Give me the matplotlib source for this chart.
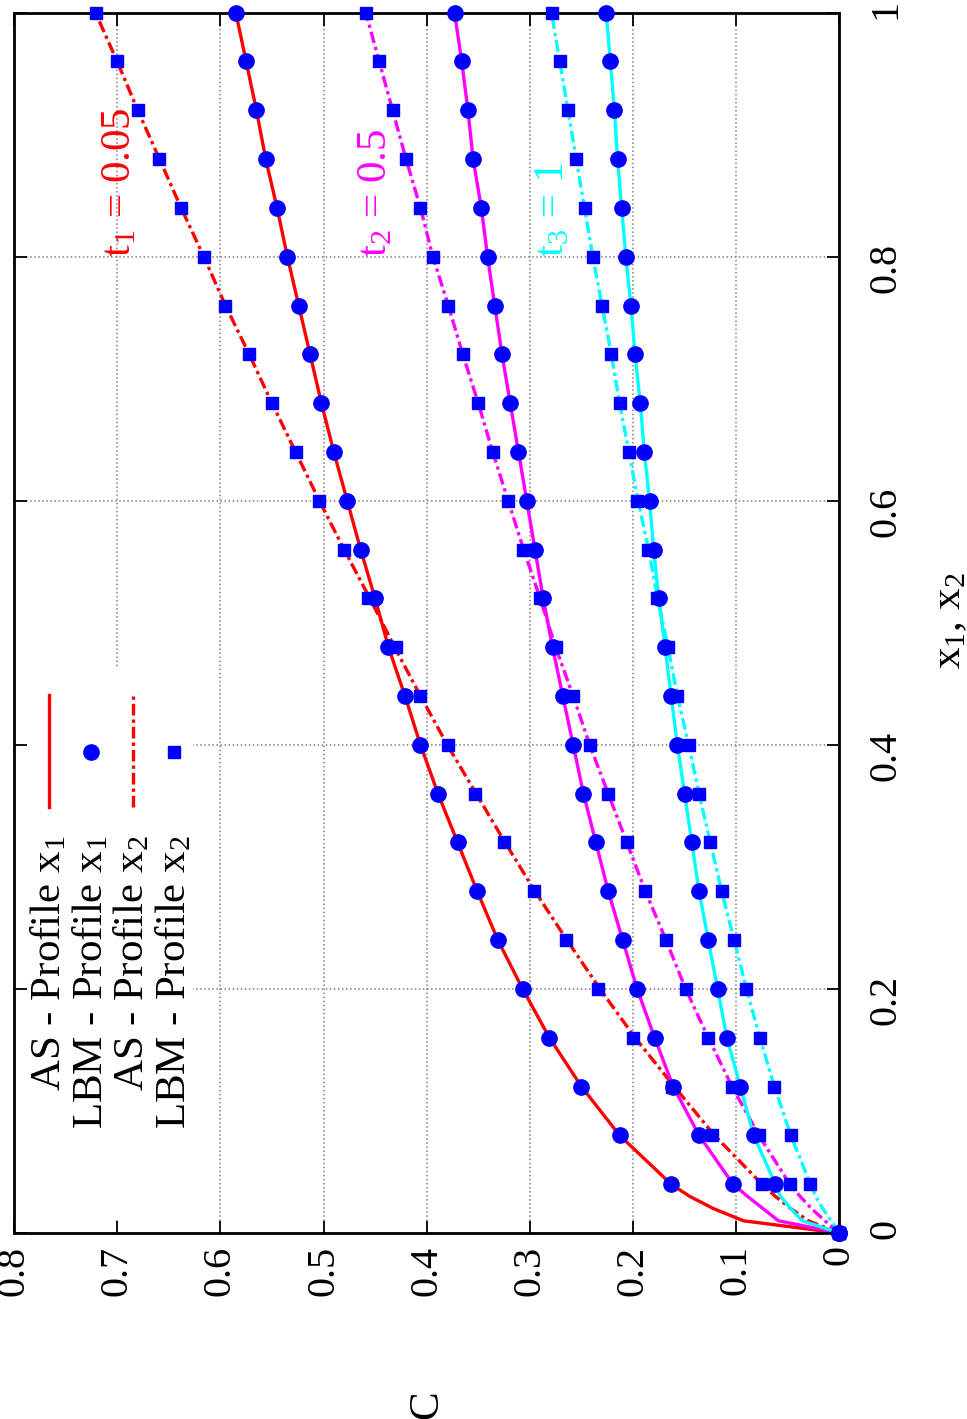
import matplotlib
matplotlib.use("Agg")
import matplotlib.pyplot as plt
from matplotlib.patches import Rectangle

# positions along the domain (x1 or x2)
x_lbm = [0.00, 0.04, 0.08, 0.12, 0.16, 0.20, 0.24, 0.28, 0.32, 0.36, 0.40, 0.44, 0.48,
         0.52, 0.56, 0.60, 0.64, 0.68, 0.72, 0.76, 0.80, 0.84, 0.88, 0.92, 0.96, 1.00]
x_as = [0.00, 0.01, 0.02, 0.03, 0.04, 0.08, 0.12, 0.16, 0.20, 0.24, 0.28, 0.32, 0.36, 0.40,
        0.44, 0.48, 0.52, 0.56, 0.60, 0.64, 0.68, 0.72, 0.76, 0.80, 0.84, 0.88, 0.92, 0.96, 1.00]

# LBM concentration profiles (markers)
lbm_t1_x1 = [0, 0.163, 0.213, 0.250, 0.281, 0.307, 0.331, 0.351, 0.370, 0.389, 0.406, 0.421, 0.437,
             0.450, 0.464, 0.477, 0.490, 0.502, 0.513, 0.524, 0.535, 0.545, 0.556, 0.565, 0.575, 0.585]
lbm_t1_x2 = [0, 0.075, 0.123, 0.162, 0.200, 0.234, 0.265, 0.296, 0.325, 0.353, 0.379, 0.406, 0.430,
             0.457, 0.480, 0.504, 0.527, 0.550, 0.572, 0.595, 0.616, 0.638, 0.659, 0.680, 0.700, 0.721]
lbm_t2_x1 = [0, 0.103, 0.136, 0.161, 0.179, 0.196, 0.210, 0.224, 0.236, 0.248, 0.258, 0.268, 0.278,
             0.287, 0.295, 0.303, 0.311, 0.319, 0.327, 0.334, 0.341, 0.347, 0.355, 0.360, 0.366, 0.373]
lbm_t2_x2 = [0, 0.048, 0.078, 0.104, 0.127, 0.149, 0.168, 0.188, 0.206, 0.224, 0.242, 0.258, 0.275,
             0.290, 0.307, 0.321, 0.336, 0.350, 0.365, 0.379, 0.394, 0.406, 0.420, 0.433, 0.446, 0.459]
lbm_t3_x1 = [0, 0.062, 0.083, 0.096, 0.109, 0.118, 0.127, 0.136, 0.143, 0.150, 0.157, 0.163, 0.169,
             0.175, 0.180, 0.184, 0.189, 0.193, 0.198, 0.202, 0.207, 0.211, 0.215, 0.218, 0.222, 0.226]
lbm_t3_x2 = [0, 0.028, 0.047, 0.063, 0.077, 0.090, 0.102, 0.114, 0.125, 0.136, 0.146, 0.157, 0.166,
             0.177, 0.185, 0.196, 0.204, 0.213, 0.221, 0.230, 0.239, 0.247, 0.255, 0.263, 0.271, 0.279]

# analytical solution (lines)
as_t1_x1 = [0, 0.093, 0.122, 0.145, 0.163, 0.213, 0.250, 0.281, 0.307, 0.331, 0.351, 0.370, 0.389, 0.406,
            0.421, 0.437, 0.450, 0.464, 0.477, 0.490, 0.502, 0.513, 0.524, 0.535, 0.545, 0.556, 0.565, 0.575, 0.585]
as_t1_x2 = [0, 0.030, 0.047, 0.062, 0.075, 0.121, 0.160, 0.198, 0.232, 0.264, 0.295, 0.324, 0.352, 0.380,
            0.406, 0.431, 0.455, 0.480, 0.504, 0.527, 0.550, 0.572, 0.595, 0.616, 0.638, 0.659, 0.680, 0.700, 0.721]
as_t2_x1 = [0, 0.059, 0.074, 0.089, 0.103, 0.136, 0.161, 0.179, 0.196, 0.210, 0.224, 0.236, 0.248, 0.258,
            0.268, 0.278, 0.287, 0.295, 0.303, 0.311, 0.319, 0.327, 0.334, 0.341, 0.347, 0.355, 0.360, 0.366, 0.373]
as_t2_x2 = [0, 0.014, 0.027, 0.038, 0.048, 0.078, 0.104, 0.127, 0.149, 0.168, 0.188, 0.206, 0.224, 0.242,
            0.258, 0.275, 0.290, 0.306, 0.321, 0.336, 0.350, 0.365, 0.379, 0.394, 0.406, 0.420, 0.433, 0.446, 0.459]
as_t3_x1 = [0, 0.036, 0.047, 0.057, 0.062, 0.083, 0.096, 0.109, 0.118, 0.127, 0.136, 0.143, 0.150, 0.157,
            0.163, 0.169, 0.175, 0.180, 0.184, 0.189, 0.193, 0.198, 0.202, 0.207, 0.211, 0.215, 0.218, 0.222, 0.226]
as_t3_x2 = [0, 0.008, 0.016, 0.023, 0.028, 0.047, 0.063, 0.077, 0.090, 0.102, 0.114, 0.125, 0.136, 0.146,
            0.157, 0.166, 0.176, 0.185, 0.195, 0.204, 0.213, 0.221, 0.230, 0.239, 0.247, 0.255, 0.263, 0.271, 0.279]

c_ticks = [0, 0.1, 0.2, 0.3, 0.4, 0.5, 0.6, 0.7, 0.8]
c_tick_labels = ["0", "0.1", "0.2", "0.3", "0.4", "0.5", "0.6", "0.7", "0.8"]
x_ticks = [0, 0.2, 0.4, 0.6, 0.8, 1.0]
x_tick_labels = ["0", "0.2", "0.4", "0.6", "0.8", "1"]

legend_labels = [r"AS - Profile $\mathrm{x}_1$", r"LBM - Profile $\mathrm{x}_1$",
                 r"AS - Profile $\mathrm{x}_2$", r"LBM - Profile $\mathrm{x}_2$"]

plt.rcParams["font.family"] = "Liberation Serif"
plt.rcParams["mathtext.fontset"] = "custom"
plt.rcParams["mathtext.rm"] = "Liberation Serif"
plt.rcParams["mathtext.it"] = "Liberation Serif:italic"

FS = 31
LW = 2.4
DASHDOT = (3.5, 1.2, 1, 1.2)

fig = plt.figure(figsize=(9.67, 14.19), dpi=100)
ax = fig.add_axes([0.01448, 0.13108, 0.8535, 0.8600])

# --- curves (the chart is drawn rotated: C runs right-to-left, x runs upward) ---
for as_x1, as_x2, col in [(as_t1_x1, as_t1_x2, "red"),
                          (as_t2_x1, as_t2_x2, "magenta"),
                          (as_t3_x1, as_t3_x2, "cyan")]:
    ax.plot(as_x1, x_as, color=col, lw=LW, zorder=2)
    ax.plot(as_x2, x_as, color=col, lw=LW, dashes=DASHDOT, zorder=2)

for lbm_x1, lbm_x2 in [(lbm_t1_x1, lbm_t1_x2), (lbm_t2_x1, lbm_t2_x2), (lbm_t3_x1, lbm_t3_x2)]:
    ax.plot(lbm_x1, x_lbm, "o", color="blue", ms=11, zorder=3, clip_on=False)
    ax.plot(lbm_x2, x_lbm, "s", color="blue", ms=9, zorder=3, clip_on=False)

# curve labels
ax.text(0.697, 0.80, r"$\mathrm{t}_1$ = 0.05", color="red", rotation=90,
        ha="center", va="bottom", fontsize=FS)
ax.text(0.449, 0.80, r"$\mathrm{t}_2$ = 0.5", color="magenta", rotation=90,
        ha="center", va="bottom", fontsize=FS)
ax.text(0.2775, 0.80, r"$\mathrm{t}_3$ = 1", color="cyan", rotation=90,
        ha="center", va="bottom", fontsize=FS)

# --- axes ---
ax.set_xlim(0.8, 0)
ax.set_ylim(0, 1)
ax.set_xticks(c_ticks)
ax.set_xticklabels(c_tick_labels, rotation=90)
ax.set_yticks(x_ticks)
ax.set_yticklabels(x_tick_labels, rotation=90)
for lbl in ax.get_yticklabels():
    lbl.set_va("center")

ax.tick_params(direction="in", length=9, width=1.3, top=True, right=True,
               labelleft=False, labelright=True, labelsize=29)
ax.tick_params(axis="x", pad=9)
ax.tick_params(axis="y", pad=20)
for sp in ax.spines.values():
    sp.set_linewidth(2)

ax.grid(True, ls=":", color="gray", lw=1.1)
ax.set_axisbelow(True)

ax.set_xlabel("C", rotation=90, fontsize=FS, va="center")
ax.xaxis.set_label_coords(0.5, -0.141)
ax.yaxis.set_label_position("right")
ax.set_ylabel(r"$\mathrm{x}_1$, $\mathrm{x}_2$", rotation=90, fontsize=FS, va="center", ha="center")
ax.yaxis.set_label_coords(1.134, 0.502)

# --- legend (rotated, built by hand) ---
ax.add_patch(Rectangle((0.0158, 0.0107), 0.201, 0.452, transform=ax.transAxes,
                       facecolor="white", edgecolor="none", zorder=1))
key_x = [0.0424, 0.0933, 0.1436, 0.1939]
ax.plot([key_x[0], key_x[0]], [0.349, 0.4409], transform=ax.transAxes, color="red", lw=LW)
ax.plot([key_x[1]], [0.394], "o", transform=ax.transAxes, color="blue", ms=11)
ax.plot([key_x[2], key_x[2]], [0.349, 0.4409], transform=ax.transAxes, color="red", lw=LW,
        dashes=DASHDOT)
ax.plot([key_x[3]], [0.394], "s", transform=ax.transAxes, color="blue", ms=9)
for kx, lab in zip(key_x, legend_labels):
    ax.text(kx, 0.326, lab, transform=ax.transAxes, rotation=90,
            ha="center", va="top", fontsize=FS)

fig.savefig("out.png", dpi=100)
